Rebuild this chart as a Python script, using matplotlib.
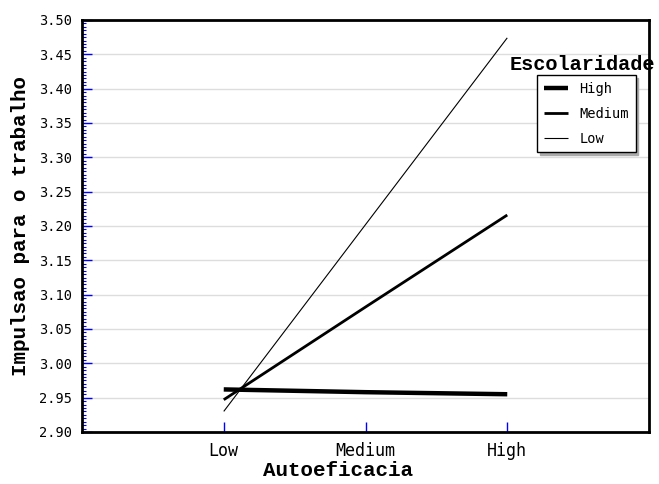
import matplotlib
matplotlib.use("Agg")
import matplotlib.pyplot as plt
from matplotlib.ticker import MultipleLocator, FormatStrFormatter

# data
categories = ["Low", "Medium", "High"]
catPos = [1, 2, 3]
groups = ["High", "Medium", "Low"]
valsHigh = [2.962, 2.958, 2.955]
valsMedium = [2.947, 3.082, 3.216]
valsLow = [2.930, 3.202, 3.474]
widths = [3.2, 2.0, 0.8]

mono = "DejaVu Sans Mono"
courier = "Liberation Mono"

fig = plt.figure(figsize=(6.59, 4.84), dpi=100)
ax = fig.add_axes([82/659, 52/484, 567/659, 412/484])

for name, vals, lw in zip(groups, [valsHigh, valsMedium, valsLow], widths):
  ax.plot(catPos, vals, color="black", linewidth=lw, label=name,
          solid_capstyle="butt")

ax.set_xlim(0, 4)
ax.set_ylim(2.90, 3.50)
ax.set_xticks(catPos)
ax.set_xticklabels(categories, fontfamily=mono, fontsize=12)
ax.yaxis.set_major_locator(MultipleLocator(0.05))
ax.yaxis.set_minor_locator(MultipleLocator(0.005))
ax.yaxis.set_major_formatter(FormatStrFormatter("%.2f"))
for lab in ax.get_yticklabels():
  lab.set_fontfamily(mono)
  lab.set_fontsize(9.8)
ax.tick_params(axis="y", which="major", direction="in", color="blue",
               length=7, width=1, pad=7)
ax.tick_params(axis="x", which="major", direction="in", color="blue",
               length=7, width=1, pad=7)
ax.tick_params(axis="y", which="minor", direction="in", color="blue",
               length=3, width=0.8)
ax.grid(axis="y", which="major", color="#dddddd", linewidth=1)
ax.set_axisbelow(True)
for sp in ax.spines.values():
  sp.set_linewidth(2)

ax.set_ylabel("Impulsao para o trabalho", fontfamily=courier, fontsize=15,
              fontweight="bold", labelpad=7)
ax.set_xlabel("Autoeficacia", fontfamily=courier, fontsize=15,
              fontweight="bold", labelpad=1)
ax.xaxis.label.set_x((338-82)/567)

leg = ax.legend(loc="upper left", bbox_to_anchor=(537/659, (484-75)/484),
                bbox_transform=fig.transFigure, prop={"family": mono, "size": 9.8},
                fancybox=False, shadow={"color": "#aaaaaa", "alpha": 1},
                handlelength=1.8, labelspacing=0.8, borderpad=0.5,
                borderaxespad=0, framealpha=1)
leg.get_frame().set_edgecolor("black")
leg.get_frame().set_linewidth(1)

fig.text(582/659, (484-64)/484, "Escolaridade", fontfamily=courier, fontsize=14.6,
         fontweight="bold", ha="center", va="center")

fig.savefig("out.png", dpi=100)
